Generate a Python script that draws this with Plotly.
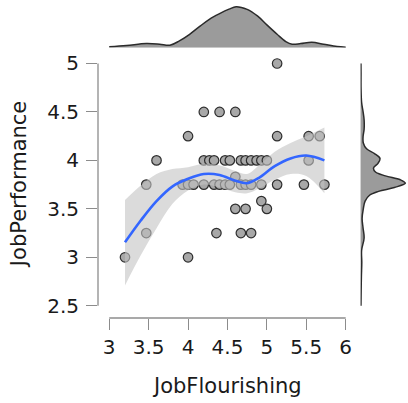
import plotly.graph_objects as go

# Observations: job flourishing (x) and job performance (y)
flourishing = [
    5.13,
    4.20, 4.40, 4.60,
    4.00, 5.13, 5.53, 5.67,
    3.60, 4.20, 4.27, 4.33, 4.47, 4.53, 4.67, 4.73, 4.80, 4.87, 4.93, 5.00, 5.53,
    4.60,
    4.93,
    3.47, 3.93, 4.00, 4.07, 4.20, 4.33, 4.40, 4.47, 4.53, 4.67, 4.73, 4.80, 4.93, 5.13, 5.47, 5.73,
    4.60, 4.73, 5.00,
    3.47, 4.36, 4.67, 4.80,
    3.20, 4.00,
]
performance = [
    5.00,
    4.50, 4.50, 4.50,
    4.25, 4.25, 4.25, 4.25,
    4.00, 4.00, 4.00, 4.00, 4.00, 4.00, 4.00, 4.00, 4.00, 4.00, 4.00, 4.00, 4.00,
    3.83,
    3.58,
    3.75, 3.75, 3.75, 3.75, 3.75, 3.75, 3.75, 3.75, 3.75, 3.75, 3.75, 3.75, 3.75, 3.75, 3.75, 3.75,
    3.50, 3.50, 3.50,
    3.25, 3.25, 3.25, 3.25,
    3.00, 3.00,
]

# Smoothed fit with its confidence band
smooth_x = [3.20, 3.40, 3.60, 3.80, 4.00, 4.20, 4.40, 4.60, 4.75, 4.90, 5.10, 5.30, 5.50, 5.73]
smooth_fit = [3.155, 3.38, 3.58, 3.73, 3.81, 3.86, 3.85, 3.79, 3.765, 3.82, 3.94, 4.02, 4.05, 4.00]
smooth_lo = [2.71, 3.02, 3.30, 3.55, 3.69, 3.75, 3.72, 3.67, 3.66, 3.71, 3.80, 3.86, 3.84, 3.66]
smooth_hi = [3.59, 3.74, 3.86, 3.91, 3.93, 3.965, 3.95, 3.89, 3.86, 3.95, 4.09, 4.18, 4.25, 4.34]

# Marginal density of job flourishing
dens_x_grid = [3.00, 3.22, 3.47, 3.64, 3.77, 3.89, 4.02, 4.14, 4.27, 4.40, 4.52, 4.61,
               4.75, 4.88, 5.00, 5.13, 5.24, 5.32, 5.43, 5.57, 5.72, 5.89, 6.00]
dens_x_vals = [0.018, 0.050, 0.100, 0.083, 0.058, 0.168, 0.333, 0.518, 0.708, 0.850, 0.963, 1.025,
               0.958, 0.793, 0.568, 0.333, 0.150, 0.083, 0.100, 0.133, 0.083, 0.025, 0.008]

# Marginal density of job performance
dens_y_grid = [2.50, 2.65, 2.80, 2.95, 3.07, 3.20, 3.30, 3.40, 3.50, 3.58, 3.64, 3.68, 3.72,
               3.765, 3.80, 3.84, 3.88, 3.92, 3.97, 4.02, 4.07, 4.12, 4.18, 4.25, 4.32,
               4.42, 4.50, 4.60, 4.75, 4.90, 5.00]
dens_y_vals = [0.008, 0.013, 0.020, 0.030, 0.025, 0.088, 0.063, 0.038, 0.068, 0.113, 0.225, 0.450,
               0.850, 1.125, 1.000, 0.625, 0.375, 0.325, 0.438, 0.488, 0.350, 0.150, 0.068, 0.063,
               0.088, 0.088, 0.063, 0.025, 0.010, 0.010, 0.008]

x_ticks = [3, 3.5, 4, 4.5, 5, 5.5, 6]
y_ticks = [2.5, 3, 3.5, 4, 4.5, 5]
tick_text = lambda v: f"{v:g}"

FONT = "DejaVu Sans"
AXIS_GREY = "#8c8c8c"

fig = go.Figure()

# scatter points
fig.add_trace(go.Scatter(
    x=flourishing, y=performance, mode="markers",
    marker=dict(size=9.5, color="#a8a8a8", line=dict(color="#2e2e2e", width=1.2)),
    cliponaxis=False, hoverinfo="skip", showlegend=False,
))

# confidence band
fig.add_trace(go.Scatter(
    x=smooth_x, y=smooth_lo, mode="lines", line=dict(width=0, shape="spline"),
    hoverinfo="skip", showlegend=False,
))
fig.add_trace(go.Scatter(
    x=smooth_x, y=smooth_hi, mode="lines", line=dict(width=0, shape="spline"),
    fill="tonexty", fillcolor="rgba(195,195,195,0.6)",
    hoverinfo="skip", showlegend=False,
))

# fitted curve
fig.add_trace(go.Scatter(
    x=smooth_x, y=smooth_fit, mode="lines",
    line=dict(color="#3366ff", width=2.6, shape="spline"),
    hoverinfo="skip", showlegend=False,
))

# top marginal density
fig.add_trace(go.Scatter(
    x=dens_x_grid, y=dens_x_vals, mode="lines", xaxis="x", yaxis="y3",
    line=dict(color="#2b2b2b", width=1.5, shape="spline"),
    fill="tozeroy", fillcolor="#9b9b9b",
    hoverinfo="skip", showlegend=False,
))

# right marginal density
fig.add_trace(go.Scatter(
    x=dens_y_vals, y=dens_y_grid, mode="lines", xaxis="x2", yaxis="y",
    line=dict(color="#2b2b2b", width=1.5, shape="spline"),
    fill="tozerox", fillcolor="#9b9b9b",
    hoverinfo="skip", showlegend=False,
))

tick_font = dict(family=FONT, size=20, color="#1a1a1a")

fig.update_layout(
    width=408, height=403,
    margin=dict(l=98, r=0, t=0, b=85),
    paper_bgcolor="white", plot_bgcolor="white",
    showlegend=False,
    xaxis=dict(
        domain=[0, 0.8194], range=[2.8576, 6.0594], anchor="y",
        showgrid=False, zeroline=False, showline=False,
        tickmode="array", tickvals=x_ticks, ticktext=[tick_text(v) for v in x_ticks],
        ticks="outside", ticklen=11, tickwidth=1.3, tickcolor=AXIS_GREY,
        tickfont=tick_font,
    ),
    yaxis=dict(
        domain=[0, 0.8365], range=[2.3735, 5.1101], anchor="x",
        showgrid=False, zeroline=False, showline=False,
        tickmode="array", tickvals=y_ticks, ticktext=[tick_text(v) for v in y_ticks],
        ticks="outside", ticklen=11, tickwidth=1.3, tickcolor=AXIS_GREY,
        tickfont=tick_font, ticklabelstandoff=3,
    ),
    xaxis2=dict(
        domain=[0.8526, 1.0], range=[0, 1.1425], anchor="y",
        visible=False,
    ),
    yaxis3=dict(
        domain=[0.8531, 1.0], range=[0, 1.1675], anchor="x",
        visible=False,
    ),
    shapes=[
        # axis lines spanning the tick range
        dict(type="line", xref="x", yref="paper", x0=3, x1=6, y0=0, y1=0,
             line=dict(color=AXIS_GREY, width=1.3)),
        dict(type="line", xref="paper", yref="y", x0=0, x1=0, y0=2.5, y1=5,
             line=dict(color=AXIS_GREY, width=1.3)),
        # density baselines
        dict(type="line", xref="x", yref="y3", x0=3, x1=6, y0=0, y1=0,
             line=dict(color="#b0b0b0", width=1.3), layer="below"),
        dict(type="line", xref="x2", yref="y", x0=0, x1=0, y0=2.5, y1=5,
             line=dict(color="#b0b0b0", width=1.3), layer="below"),
    ],
    annotations=[
        dict(text="JobFlourishing", xref="x", yref="paper", x=4.5, y=-0.216,
             xanchor="center", yanchor="middle", showarrow=False,
             font=dict(family=FONT, size=21, color="#1a1a1a")),
        dict(text="JobPerformance", xref="paper", yref="y", x=-0.258, y=3.75,
             xanchor="center", yanchor="middle", textangle=-90, showarrow=False,
             font=dict(family=FONT, size=21, color="#1a1a1a")),
    ],
)

fig.write_html("out.html")
